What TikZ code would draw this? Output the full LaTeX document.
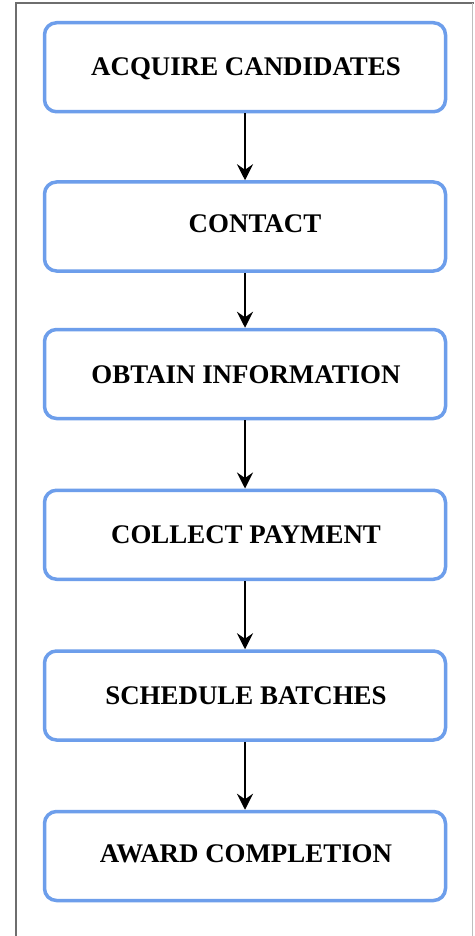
\documentclass[tikz,border=0pt]{standalone}
\usepackage{fontspec}
\setmainfont{Liberation Serif}
\usetikzlibrary{arrows.meta}
\definecolor{boxblue}{HTML}{6D9EEB}
\definecolor{framegray}{HTML}{6E6E6E}
\definecolor{framelight}{HTML}{BEBEBE}
\begin{document}
\begin{tikzpicture}[x=1pt,y=-1pt,
  stepbox/.style={draw=boxblue,line width=3.5pt,rounded corners=12pt,
    minimum width=401pt,minimum height=89pt,inner sep=0pt},
  steptext/.style={font=\fontsize{26.9}{30}\selectfont\bfseries,inner sep=0pt,anchor=base},
  flow/.style={line width=2pt,-{Stealth[length=16pt,width=16pt,inset=5.5pt]}}]
\useasboundingbox (0,0) rectangle (474,936);
\fill[white] (0,0) rectangle (474,936);
\draw[framegray,line width=2pt] (15.5,936) -- (15.5,3.2) -- (474,3.2);
\draw[framelight,line width=1.5pt] (472.5,3.2) -- (472.5,936);
\node[stepbox] (a) at (245,67.25) {};
\node[stepbox] (b) at (245,226.5) {};
\node[stepbox] (c) at (245,374) {};
\node[stepbox] (d) at (245,534.75) {};
\node[stepbox] (e) at (245,695.5) {};
\node[stepbox] (f) at (245,856) {};
\node[steptext] (ta) at (246,76) {ACQUIRE CANDIDATES};
\node[steptext] (tb) at (255,232) {CONTACT};
\node[steptext] (tc) at (246,383) {OBTAIN INFORMATION};
\node[steptext] (td) at (246,543) {COLLECT PAYMENT};
\node[steptext] (te) at (246,704) {SCHEDULE BATCHES};
\node[steptext] (tf) at (246,862) {AWARD COMPLETION};
\draw[flow] (a.south) -- (b.north);
\draw[flow] (b.south) -- (c.north);
\draw[flow] (c.south) -- (d.north);
\draw[flow] (d.south) -- (e.north);
\draw[flow] (e.south) -- (f.north);
\end{tikzpicture}
\end{document}
